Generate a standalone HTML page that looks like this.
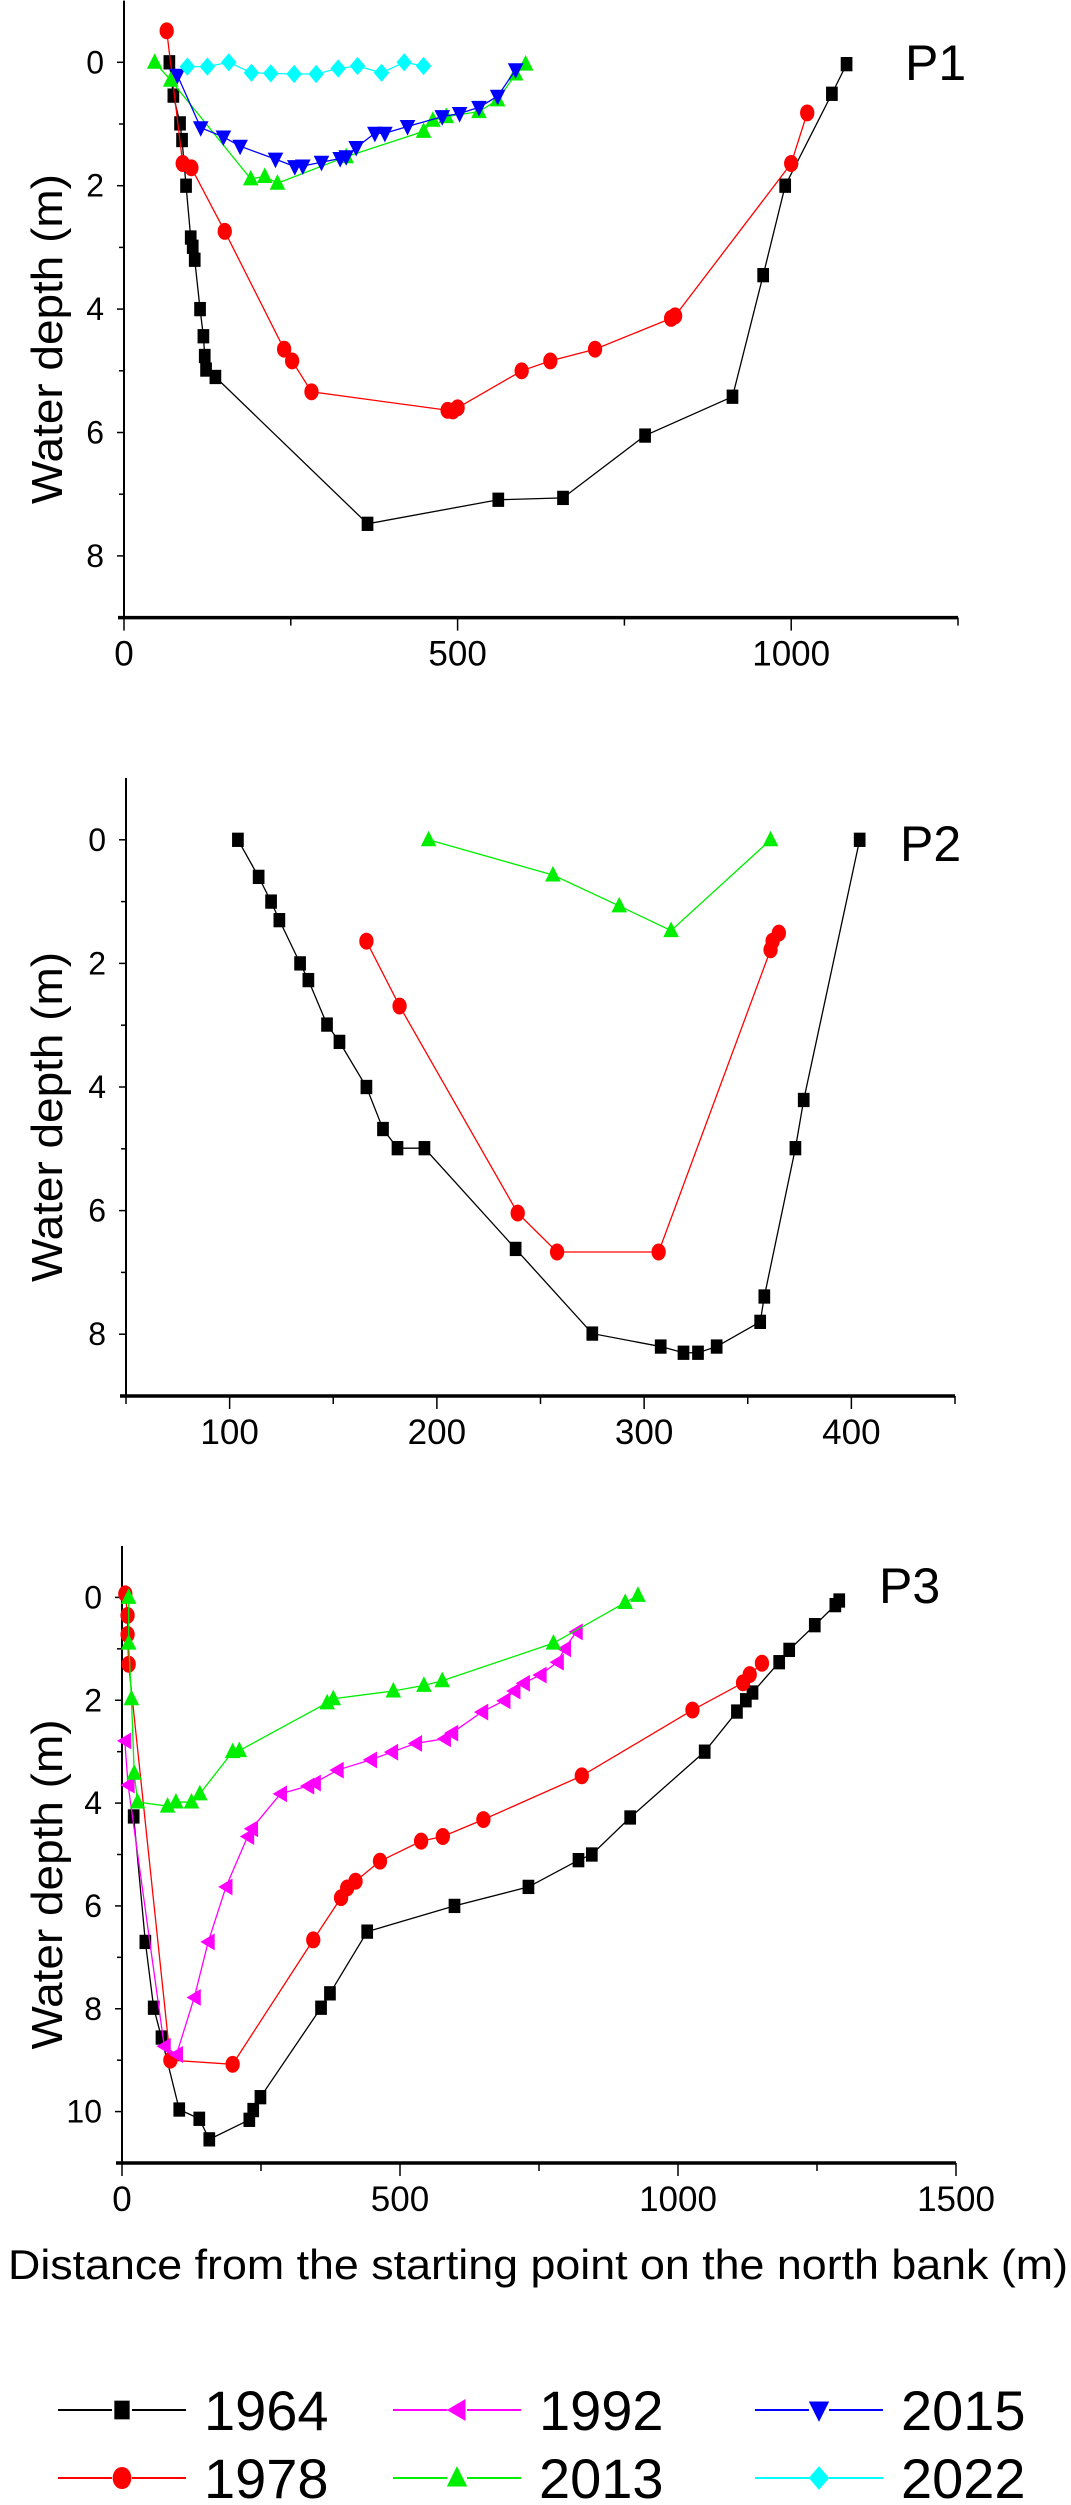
<!DOCTYPE html>
<html>
<head>
<meta charset="utf-8">
<style>
  html,body{margin:0;padding:0;background:#fff;}
  body{width:1071px;height:2500px;overflow:hidden;font-family:"Liberation Sans",Arial,sans-serif;}
  svg text{font-family:"Liberation Sans",Arial,sans-serif;fill:#000;}
</style>
</head>
<body>
<svg id="chart" width="1071" height="2500" viewBox="0 0 1071 2500" xmlns="http://www.w3.org/2000/svg">
  <g id="p1"></g>
  <g id="p2"></g>
  <g id="p3"></g>
  <text x="538" y="2279" font-size="42" text-anchor="middle" textLength="1060" lengthAdjust="spacingAndGlyphs">Distance from the starting point on the north bank (m)</text>
  <g id="legend"></g>
</svg>
<script>
// ---------- data: P1 ----------
const p1_1964_x = [68,74,84,87,93,100,103,106,114,119,121,123,137,365,561,658,781,912,958,991,1061,1083];
const p1_1964_d = [0,0.54,0.99,1.26,2.0,2.84,2.99,3.2,4.0,4.44,4.76,4.98,5.1,7.48,7.09,7.06,6.05,5.42,3.45,2.0,0.51,0.03];
const p1_1978_x = [64,88,101,151,240,252,281,485,493,500,596,639,706,820,826,1000,1024];
const p1_1978_d = [-0.51,1.64,1.71,2.74,4.65,4.84,5.34,5.64,5.65,5.6,5.0,4.84,4.65,4.15,4.11,1.64,0.82];
const p1_2013_x = [46,70,190,211,230,333,449,463,483,532,560,587,602];
const p1_2013_d = [0,0.29,1.89,1.85,1.96,1.53,1.12,0.94,0.88,0.8,0.61,0.19,0.03];
const p1_2015_x = [80,115,149,174,227,256,268,296,324,333,348,376,391,425,477,503,532,560,587];
const p1_2015_d = [0.21,1.06,1.21,1.36,1.57,1.69,1.68,1.62,1.56,1.53,1.38,1.15,1.15,1.04,0.88,0.83,0.73,0.55,0.12];
const p1_2022_x = [95,125,157,191,220,255,288,321,350,386,420,449];
const p1_2022_d = [0.07,0.07,0,0.17,0.18,0.19,0.19,0.1,0.06,0.17,0,0.06];
// ---------- data: P2 ----------
const p2_1964_x = [104,114,120,124,134,138,147,153,166,174,181,194,238,275,308,319,326,335,356,358,373,377,404];
const p2_1964_d = [0,0.6,1.0,1.3,2.0,2.27,2.99,3.27,4.0,4.68,4.99,4.99,6.62,7.99,8.2,8.3,8.3,8.2,7.8,7.39,4.99,4.21,0];
const p2_1978_x = [166,182,239,258,307,361,362,365];
const p2_1978_d = [1.64,2.69,6.04,6.67,6.67,1.78,1.64,1.51];
const p2_2013_x = [196,256,288,313,361];
const p2_2013_d = [0,0.57,1.07,1.47,0];
// ---------- data: P3 ----------
const p3_1964_x = [21,42,57,71,103,139,157,229,236,249,358,374,441,598,731,821,845,914,1048,1106,1122,1134,1182,1200,1246,1283,1290];
const p3_1964_d = [4.26,6.7,7.98,8.56,9.96,10.14,10.54,10.16,9.97,9.72,7.98,7.7,6.5,6.0,5.63,5.11,5.0,4.28,3.0,2.22,2.0,1.85,1.26,1.02,0.54,0.15,0.06];
const p3_1978_x = [6,10,10,12,87,199,344,394,405,420,464,538,577,650,827,1026,1117,1129,1151];
const p3_1978_d = [-0.07,0.35,0.72,1.3,9.0,9.08,6.66,5.84,5.65,5.52,5.13,4.74,4.65,4.32,3.47,2.19,1.66,1.5,1.28];
const p3_1992_x = [5,11,76,98,130,155,187,226,233,285,334,346,387,447,485,528,580,593,647,687,705,722,752,783,796,817];
const p3_1992_d = [2.79,3.65,8.73,8.89,7.78,6.7,5.63,4.65,4.5,3.82,3.67,3.61,3.36,3.16,3.01,2.84,2.75,2.64,2.23,2.01,1.82,1.67,1.51,1.26,1.0,0.67];
const p3_2013_x = [12,12,17,22,28,82,97,125,140,199,211,369,380,488,543,576,776,905,928];
const p3_2013_d = [0,0.89,1.97,3.42,3.98,4.06,3.98,3.98,3.82,3.0,2.98,2.05,1.97,1.82,1.71,1.62,0.89,0.1,-0.04];
// ---------- axes ticks ----------
const p1_xticks = [0,500,1000];
const p2_xticks = [100,200,300,400];
const p3_xticks = [0,500,1000,1500];
const p12_yticks = [0,2,4,6,8];
const p3_yticks = [0,2,4,6,8,10];
const legendYears = ["1964","1978","1992","2013","2015","2022"];

const NS = "http://www.w3.org/2000/svg";
function mk(tag, attrs, parent){
  const e = document.createElementNS(NS, tag);
  for (const k in attrs) e.setAttribute(k, attrs[k]);
  parent.appendChild(e);
  return e;
}
const STY = {
  "1964":{c:"#000000", m:"square"},
  "1978":{c:"#ff0000", m:"circle"},
  "1992":{c:"#ff00ff", m:"left"},
  "2013":{c:"#00ee00", m:"up"},
  "2015":{c:"#0000ff", m:"down"},
  "2022":{c:"#00ffff", m:"diamond"}
};
function marker(g, kind, x, y, col, s){
  let e;
  if (kind === "square") e = mk("rect", {x:x-s*0.45, y:y-s*0.55, width:s*0.9, height:s*1.1, fill:col}, g);
  else if (kind === "circle") e = mk("ellipse", {cx:x, cy:y, rx:s*0.55, ry:s*0.65, fill:col}, g);
  else if (kind === "up") e = mk("polygon", {points:`${x},${y-s*0.7} ${x-s*0.6},${y+s*0.5} ${x+s*0.6},${y+s*0.5}`, fill:col}, g);
  else if (kind === "down") e = mk("polygon", {points:`${x},${y+s*0.7} ${x-s*0.6},${y-s*0.5} ${x+s*0.6},${y-s*0.5}`, fill:col}, g);
  else if (kind === "left") e = mk("polygon", {points:`${x-s*0.6},${y} ${x+s*0.5},${y-s*0.65} ${x+s*0.5},${y+s*0.65}`, fill:col}, g);
  else e = mk("polygon", {points:`${x},${y-s*0.7} ${x+s*0.6},${y} ${x},${y+s*0.7} ${x-s*0.6},${y}`, fill:col}, g);
  
  
  return e;
}

function panel(id, cfg){
  const g = document.getElementById(id);
  const sx = v => cfg.px0 + (v - cfg.xmin) / (cfg.xmax - cfg.xmin) * (cfg.px1 - cfg.px0);
  const sy = v => cfg.py0 + (v - cfg.ymin) / (cfg.ymax - cfg.ymin) * (cfg.py1 - cfg.py0);
  const ya = mk("line", {x1:cfg.px0, y1:cfg.py0, x2:cfg.px0, y2:cfg.py1, stroke:"#000", "stroke-width":2}, g);
  
  
  const xa = mk("line", {x1:cfg.px0-6, y1:cfg.py1, x2:cfg.px1, y2:cfg.py1, stroke:"#000", "stroke-width":3.5}, g);
  
  
  for (let v = cfg.xmin; v <= cfg.xmax + 1e-6; v += cfg.xminor){
    const major = cfg.xticks.indexOf(v) >= 0;
    const t = mk("line", {x1:sx(v), y1:cfg.py1, x2:sx(v), y2:cfg.py1 + (major ? 13 : 8), stroke:"#000", "stroke-width":1.5}, g);
    
    
  }
  cfg.xticks.forEach(v => {
    const t = mk("text", {x:sx(v), y:cfg.py1 + 48, "font-size":35, "text-anchor":"middle"}, g);
    t.textContent = v;
    
    
  });
  for (let v = Math.ceil(cfg.ymin); v <= cfg.ymax; v += 1){
    if (v === cfg.ymin || v === cfg.ymax) continue;
    const major = cfg.yticks.indexOf(v) >= 0;
    const t = mk("line", {x1:cfg.px0 - (major ? 7 : 5), y1:sy(v), x2:cfg.px0, y2:sy(v), stroke:"#000", "stroke-width":1.5}, g);
    
    
  }
  cfg.yticks.forEach(v => {
    const t = mk("text", {x:cfg.px0 - 20, y:sy(v) + 11, "font-size":32, "text-anchor":"end"}, g);
    t.textContent = v;
    
    
  });
  const cy = (cfg.py0 + cfg.py1) / 2 + 30;
  const yt = mk("text", {x:0, y:0, "font-size":44, "text-anchor":"middle", textLength:330, lengthAdjust:"spacingAndGlyphs", transform:`translate(62,${cy}) rotate(-90)`}, g);
  yt.textContent = "Water depth (m)";
  
  
  const pl = mk("text", {x:cfg.labelX, y:cfg.labelY, "font-size":50}, g);
  pl.textContent = cfg.label;
  
  
  cfg.series.forEach(s => {
    const st = STY[s.year];
    const sg = mk("g", {}, g);
    
    
    const pts = s.x.map((v, i) => sx(v) + "," + sy(s.d[i])).join(" ");
    const pl2 = mk("polyline", {points:pts, fill:"none", stroke:st.c, "stroke-width":1.3}, sg);
    
    
    s.x.forEach((v, i) => marker(sg, st.m, sx(v), sy(s.d[i]), st.c, 13));
  });
}

panel("p1", {xmin:0, xmax:1250, ymin:-1, ymax:9, px0:124, px1:958, py0:0.6, py1:617.6,
  xticks:p1_xticks, xminor:250, yticks:p12_yticks, label:"P1", labelX:905, labelY:80,
  series:[{year:"1964",x:p1_1964_x,d:p1_1964_d},{year:"1978",x:p1_1978_x,d:p1_1978_d},
          {year:"2013",x:p1_2013_x,d:p1_2013_d},{year:"2015",x:p1_2015_x,d:p1_2015_d},
          {year:"2022",x:p1_2022_x,d:p1_2022_d}]});
panel("p2", {xmin:50, xmax:450, ymin:-1, ymax:9, px0:126, px1:955, py0:778, py1:1396,
  xticks:p2_xticks, xminor:50, yticks:p12_yticks, label:"P2", labelX:900, labelY:861,
  series:[{year:"1964",x:p2_1964_x,d:p2_1964_d},{year:"1978",x:p2_1978_x,d:p2_1978_d},
          {year:"2013",x:p2_2013_x,d:p2_2013_d}]});
panel("p3", {xmin:0, xmax:1500, ymin:-1, ymax:11, px0:122, px1:956, py0:1546, py1:2163,
  xticks:p3_xticks, xminor:250, yticks:p3_yticks, label:"P3", labelX:879, labelY:1603,
  series:[{year:"1964",x:p3_1964_x,d:p3_1964_d},{year:"1978",x:p3_1978_x,d:p3_1978_d},
          {year:"1992",x:p3_1992_x,d:p3_1992_d},{year:"2013",x:p3_2013_x,d:p3_2013_d}]});

const lg = document.getElementById("legend");
const colX = [58, 393, 755];
const rowY = [2410, 2478];
legendYears.forEach((yr, i) => {
  const col = Math.floor(i / 2), row = i % 2;
  const x0 = colX[col], y = rowY[row], st = STY[yr];
  const eg = mk("g", {}, lg);
  
  
  const ln = mk("line", {x1:x0, y1:y, x2:x0 + 128, y2:y, stroke:st.c, "stroke-width":2}, eg);
  
  
  mk("rect", {x:x0 + 54, y:y - 14, width:20, height:28, fill:"#fff"}, eg);
  marker(eg, st.m, x0 + 64, y, st.c, 17);
  const t = mk("text", {x:x0 + 146, y:y + 20, "font-size":56}, eg);
  t.textContent = yr;
  
  
});
</script>
</body>
</html>
